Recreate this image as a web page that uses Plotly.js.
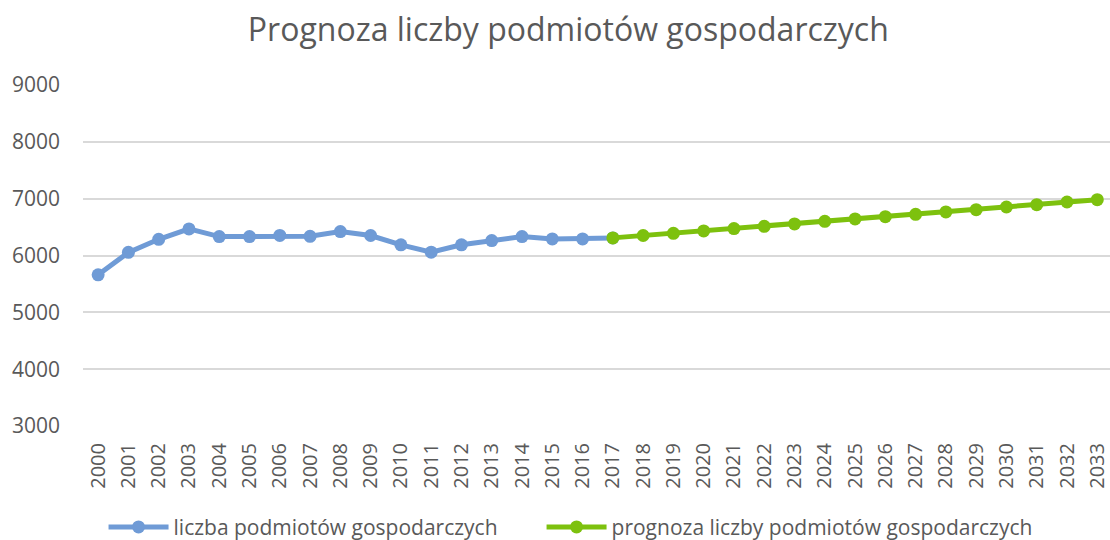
<!DOCTYPE html>
<html>
<head>
<meta charset="utf-8">
<script src="https://cdn.plot.ly/plotly-3.0.1.min.js"></script>
<style>html,body{margin:0;padding:0;background:#fff;overflow:hidden}#chart{width:1110px;height:540px}</style>
</head>
<body>
<div id="chart"></div>
<script>
const titleText = "Prognoza liczby podmiotów gospodarczych";
const seriesNames = ["liczba podmiotów gospodarczych", "prognoza liczby podmiotów gospodarczych"];
const years = ["2000","2001","2002","2003","2004","2005","2006","2007","2008","2009","2010","2011","2012","2013","2014","2015","2016","2017","2018","2019","2020","2021","2022","2023","2024","2025","2026","2027","2028","2029","2030","2031","2032","2033"];
const actualYears = ["2000","2001","2002","2003","2004","2005","2006","2007","2008","2009","2010","2011","2012","2013","2014","2015","2016","2017"];
const actualValues = [5660,6055,6285,6468,6333,6333,6354,6338,6421,6352,6188,6058,6188,6263,6333,6292,6292,6310];
const forecastYears = ["2017","2018","2019","2020","2021","2022","2023","2024","2025","2026","2027","2028","2029","2030","2031","2032","2033"];
const forecastValues = [6310,6352,6390,6432,6473,6514,6556,6601,6643,6684,6725,6766,6807,6853,6895,6941,6982];
const yTicks = [3000,4000,5000,6000,7000,8000,9000];

const FONT = "Open Sans, Liberation Sans, sans-serif";
const TXT = "#595959";

const traces = [
  {x: actualYears, y: actualValues, name: seriesNames[0], type: "scatter", mode: "lines+markers",
   line: {color: "#6F9BD6", width: 5}, marker: {color: "#6F9BD6", size: 13}, legend: "legend"},
  {x: forecastYears, y: forecastValues, name: seriesNames[1], type: "scatter", mode: "lines+markers",
   line: {color: "#7DC10E", width: 5}, marker: {color: "#7DC10E", size: 13}, legend: "legend2"}
];

const legendStyle = {orientation: "h", xanchor: "left", y: -0.297, yanchor: "middle",
  font: {family: FONT, size: 21, color: TXT}, itemwidth: 60, bgcolor: "rgba(0,0,0,0)"};

const layout = {
  width: 1110, height: 540,
  paper_bgcolor: "#fff", plot_bgcolor: "#fff",
  margin: {l: 83, r: 0, t: 85, b: 114, autoexpand: false},
  title: {text: titleText, font: {family: FONT, size: 32, color: TXT}, x: 0.512, xanchor: "center", y: 0.945, yanchor: "middle"},
  xaxis: {type: "category", categoryorder: "array", categoryarray: years, range: [-0.5, 33.42],
          tickangle: -90, tickfont: {family: FONT, size: 20, color: TXT}, automargin: false,
          showgrid: false, zeroline: false, showline: false, ticks: "", ticklen: 0,
          ticklabelstandoff: 12, fixedrange: true},
  yaxis: {range: [3000, 9000], tickvals: yTicks, ticktext: yTicks.map(String), automargin: false,
          tickfont: {family: FONT, size: 21, color: TXT}, gridcolor: "#D9D9D9", gridwidth: 2,
          zeroline: false, showline: false, ticks: "", ticklabelstandoff: 22, fixedrange: true},
  showlegend: true,
  legend: Object.assign({}, legendStyle, {x: 0.02}),
  legend2: Object.assign({}, legendStyle, {x: 0.4465})
};

Plotly.newPlot("chart", traces, layout, {displayModeBar: false, staticPlot: true});
</script>
</body>
</html>
